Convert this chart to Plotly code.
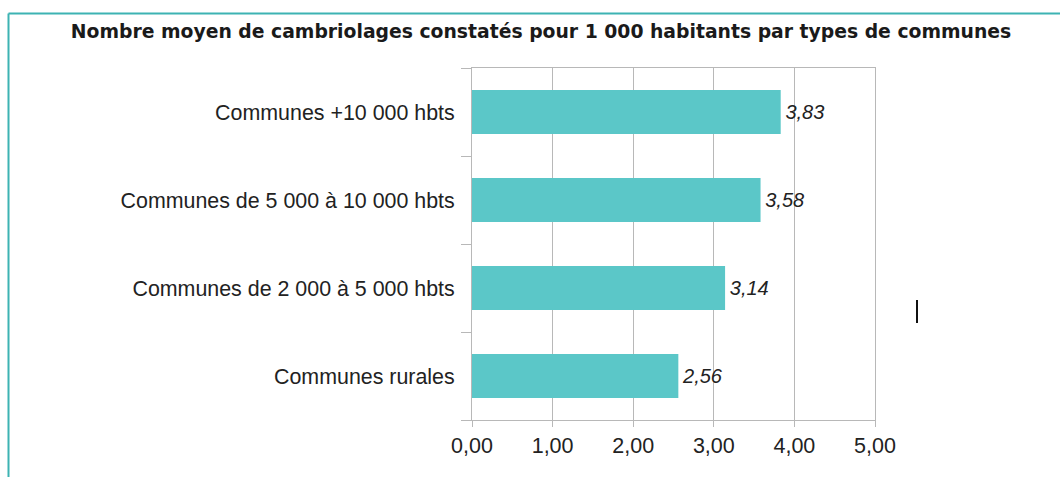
import plotly.graph_objects as go

categories = ["Communes rurales", "Communes de 2 000 à 5 000 hbts",
              "Communes de 5 000 à 10 000 hbts", "Communes +10 000 hbts"]
values = [2.56, 3.14, 3.58, 3.83]
x_ticks = [0, 1, 2, 3, 4, 5]
title_text = "Nombre moyen de cambriolages constatés pour 1 000 habitants par types de communes"

W, H = 1060, 477
L, R, T, B = 472, 875, 68, 420

def px(x):
    return (x - L) / (R - L)

def py(y):
    return (B - y) / (B - T)

fig = go.Figure(go.Bar(
    y=categories, x=values, orientation="h",
    marker=dict(color="#5BC7C8", line=dict(width=0)),
    width=0.5,
    texttemplate="\u200a%{x:.2f}", textposition="outside",
    textfont=dict(family="Liberation Sans", size=20, color="#222222", style="italic"),
    cliponaxis=False,
))

grid = "#b8b8b8"
fig.update_layout(
    width=W, height=H,
    margin=dict(l=L, r=W - R, t=T, b=H - B, pad=0),
    paper_bgcolor="white", plot_bgcolor="white",
    separators=", ",
    showlegend=False,
    title=dict(text=title_text, x=541 / W, xanchor="center", y=1 - 31 / H, yanchor="middle",
               font=dict(family="DejaVu Sans", size=18.8, color="#1a1a1a", weight="bold")),
    xaxis=dict(range=[0, 5], tickvals=x_ticks, tickformat=".2f",
               showgrid=True, gridcolor=grid, gridwidth=1,
               showline=True, linecolor=grid, linewidth=1, mirror=True,
               ticks="outside", ticklen=6, tickcolor=grid,
               tickfont=dict(family="Liberation Sans", size=21.5, color="#222222"),
               zeroline=False, fixedrange=True),
    yaxis=dict(categoryorder="array", categoryarray=categories,
               showline=True, linecolor=grid, linewidth=1, mirror=True,
               ticks="outside", ticklen=10, tickcolor=grid, tickson="boundaries",
               ticklabelstandoff=12,
               tickfont=dict(family="Liberation Sans", size=21.4, color="#222222"),
               showgrid=False, zeroline=False, fixedrange=True),
    font=dict(family="Liberation Sans"),
)

teal = "#3DB3B3"
fig.add_shape(type="line", xref="paper", yref="paper",
              x0=px(8.5), x1=px(1060), y0=py(13.5), y1=py(13.5),
              line=dict(color=teal, width=2))
fig.add_shape(type="line", xref="paper", yref="paper",
              x0=px(8.5), x1=px(8.5), y0=py(13.5), y1=py(477),
              line=dict(color=teal, width=2))
fig.add_shape(type="line", xref="paper", yref="paper",
              x0=px(917), x1=px(917), y0=py(300), y1=py(323),
              line=dict(color="#111111", width=2))

fig.write_html("out.html", config={"displayModeBar": False},
               post_script="document.body.style.margin='0';")
